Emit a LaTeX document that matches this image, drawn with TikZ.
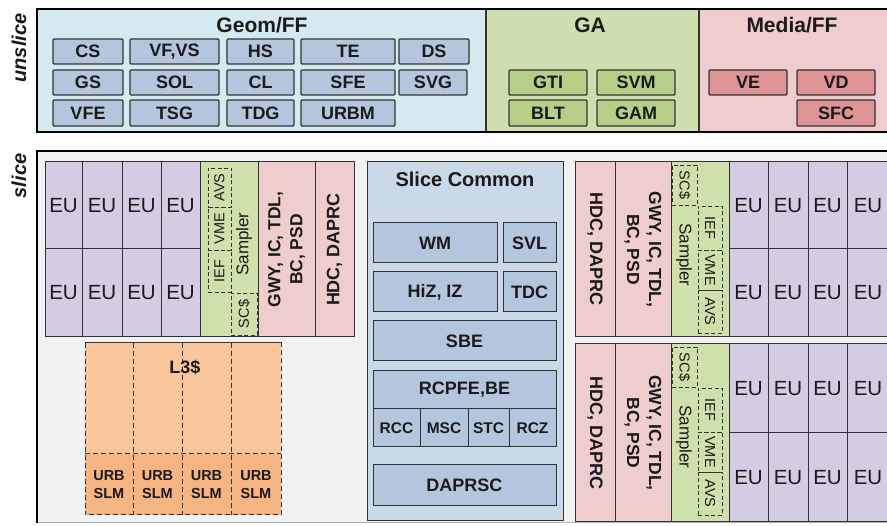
\documentclass[tikz,border=0pt]{standalone}
\usepackage{fontspec}
\setmainfont{Liberation Sans}
\definecolor{txt}{HTML}{1A1A1A}
\definecolor{bdr}{HTML}{333333}
\definecolor{geombg}{HTML}{D4EAF0}
\definecolor{geombox}{HTML}{B3C6DE}
\definecolor{gabg}{HTML}{CFDEAE}
\definecolor{gabox}{HTML}{B5CF88}
\definecolor{medbg}{HTML}{F0CDCD}
\definecolor{medbox}{HTML}{DE9494}
\definecolor{slicebg}{HTML}{F2F2F2}
\definecolor{eucol}{HTML}{D4CCE2}
\definecolor{sampcol}{HTML}{CFE0AB}
\definecolor{pinkcol}{HTML}{EFCDCD}
\definecolor{scbg}{HTML}{C9D9E8}
\definecolor{l3top}{HTML}{F9C79B}
\definecolor{l3bot}{HTML}{F6B483}
\newcommand\rbox[7]{%
  \pgfmathsetmacro\bw{#5-#3}\pgfmathsetmacro\bh{#6-#4}%
  \node[#1, anchor=north west, minimum width=\bw pt, minimum height=\bh pt] (#2) at (#3,#4) {#7};}
\begin{document}
\begin{tikzpicture}[x=1pt,y=-1pt,
  every node/.style={inner sep=0pt, outer sep=0pt, text=txt},
  lbl/.style={font=\fontsize{18}{20}\selectfont\bfseries},
  ttl/.style={font=\fontsize{21}{24}\selectfont\bfseries},
  small/.style={font=\fontsize{15.5}{17}\selectfont\bfseries},
  tiny/.style={font=\fontsize{14.5}{16}\selectfont},
  samp/.style={font=\fontsize{17}{18}\selectfont},
  rotl/.style={font=\fontsize{17.5}{22}\selectfont\bfseries, align=center},
  side/.style={font=\fontsize{20}{22}\selectfont\bfseries\itshape},
  topbox/.style={draw=bdr, line width=1.3pt, rounded corners=1pt, lbl},
  gbox/.style={topbox, fill=geombox},
  abox/.style={topbox, fill=gabox},
  mbox/.style={topbox, fill=medbox},
  eu/.style={draw=bdr, line width=1pt, fill=eucol, font=\fontsize{20.5}{22}\selectfont},
  sampblk/.style={draw=bdr, line width=1pt, fill=sampcol},
  pinkblk/.style={draw=bdr, line width=1pt, fill=pinkcol},
  scbox/.style={draw=bdr, line width=1pt, fill=geombox},
  sbx/.style={draw=bdr, line width=0.9pt, dash pattern=on 4pt off 2.5pt},
  dsh/.style={draw=bdr, line width=1pt, dash pattern=on 5pt off 3pt},
  frame/.style={draw=black, line width=2.5pt}
]
\useasboundingbox (0,0) rectangle (887,526);
% ---------------- unslice ----------------
\fill[geombg] (37,9) rectangle (486,132);
\fill[gabg] (486,9) rectangle (699,132);
\fill[medbg] (699,9) rectangle (892,132);
\draw[bdr, line width=1.5pt] (486,9) -- (486,132) (699,9) -- (699,132);
\draw[frame] (892,9) -- (37,9) -- (37,132) -- (892,132);
\node[side, rotate=90] (unslice) at (19,48) {unslice};
\node[ttl] (tgeom) at (262,25) {Geom/FF};
\node[ttl] (tga) at (590,25) {GA};
\node[ttl] (tmed) at (792,25) {Media/FF};
\rbox{gbox}{cs}{53}{39}{123}{64}{CS}
\rbox{gbox}{vfvs}{130}{39}{219}{64}{VF,VS}
\rbox{gbox}{hs}{227}{39}{294}{64}{HS}
\rbox{gbox}{te}{301}{39}{395}{64}{TE}
\rbox{gbox}{ds}{399}{39}{469}{64}{DS}
\rbox{gbox}{gs}{53}{70}{123}{95}{GS}
\rbox{gbox}{sol}{130}{70}{219}{95}{SOL}
\rbox{gbox}{cl}{227}{70}{294}{95}{CL}
\rbox{gbox}{sfe}{301}{70}{395}{95}{SFE}
\rbox{gbox}{svg}{399}{70}{467}{95}{SVG}
\rbox{gbox}{vfe}{53}{100}{123}{126}{VFE}
\rbox{gbox}{tsg}{130}{100}{219}{126}{TSG}
\rbox{gbox}{tdg}{227}{100}{294}{126}{TDG}
\rbox{gbox}{urbm}{301}{100}{395}{126}{URBM}
\rbox{abox}{gti}{509}{70}{587}{95}{GTI}
\rbox{abox}{svm}{597}{70}{675}{95}{SVM}
\rbox{abox}{blt}{509}{100}{587}{126}{BLT}
\rbox{abox}{gam}{597}{100}{675}{126}{GAM}
\rbox{mbox}{ve}{709}{70}{787}{95}{VE}
\rbox{mbox}{vd}{797}{70}{875}{95}{VD}
\rbox{mbox}{sfc}{797}{100}{875}{126}{SFC}
% ---------------- slice ----------------
\fill[slicebg] (37,151) rectangle (892,523);
\draw[gray!60, line width=1pt] (37,523) -- (892,523);
\draw[frame] (892,151) -- (37,151) -- (37,523);
\node[side, rotate=90] (slicelbl) at (19,176) {slice};
% left block
\foreach \a/\b [count=\i] in {45/82,82/122,122/161,161/200}{
  \rbox{eu}{euLa\i}{\a}{162}{\b}{249}{EU}
  \rbox{eu}{euLb\i}{\a}{249}{\b}{337}{EU}}
\rbox{sampblk}{sampL}{200}{162}{258}{337}{}
\rbox{pinkblk}{gwyL}{258}{162}{315}{337}{}
\rbox{pinkblk}{hdcL}{315}{162}{354}{337}{}
\node[rotl, rotate=90] (tgwyL) at (gwyL) {GWY, IC, TDL,\\BC, PSD};
\node[rotl, rotate=90, font=\fontsize{18}{22}\selectfont\bfseries] (thdcL) at (hdcL) {HDC, DAPRC};
\rbox{sbx}{avsL}{208}{168}{231}{207}{}
\rbox{sbx}{vmeL}{208}{207}{231}{250}{}
\rbox{sbx}{iefL}{208}{250}{231}{292}{}
\rbox{sbx}{scL}{231}{293}{257}{335}{}
\node[tiny, rotate=90] at (avsL) {AVS};
\node[tiny, rotate=90] at (vmeL) {VME};
\node[tiny, rotate=90] at (iefL) {IEF};
\node[tiny, rotate=90] at (scL) {SC\$};
\node[samp, rotate=90] (tsampL) at (244,244) {Sampler};
% L3
\rbox{draw=none, fill=l3top}{l3}{85}{343}{281}{454}{}
\foreach \a/\b [count=\i] in {85/133,133/182,182/231,231/281}{
  \rbox{draw=none, fill=l3bot, font=\fontsize{14.5}{18}\selectfont\bfseries, align=center}{urb\i}{\a}{454}{\b}{515}{URB\\SLM}}
\draw[dsh] (85,343) rectangle (281,515);
\draw[bdr, line width=1pt] (85,343) -- (281,343);
\draw[dsh] (133,343) -- (133,515) (182,343) -- (182,515) (231,343) -- (231,515) (85,454) -- (281,454);
\node[lbl] (tl3) at (185,367) {L3\$};
% Slice Common
\rbox{draw=bdr, line width=1pt, fill=scbg}{sc}{367}{162}{563}{521}{}
\node[ttl, font=\fontsize{20}{22}\selectfont\bfseries] (tsc) at (465,179) {Slice Common};
\rbox{scbox, lbl}{wm}{373}{223}{497}{263}{WM}
\rbox{scbox, lbl}{svl}{503}{223}{556}{263}{SVL}
\rbox{scbox, lbl}{hiz}{373}{272}{497}{312}{HiZ, IZ}
\rbox{scbox, lbl}{tdc}{503}{272}{556}{312}{TDC}
\rbox{scbox, lbl}{sbe}{373}{321}{556}{361}{SBE}
\rbox{scbox, lbl}{rcpfe}{373}{371}{556}{409}{RCPFE,BE}
\rbox{scbox, small}{rcc}{373}{409}{420}{447}{RCC}
\rbox{scbox, small}{msc}{420}{409}{468}{447}{MSC}
\rbox{scbox, small}{stc}{468}{409}{509}{447}{STC}
\rbox{scbox, small}{rcz}{509}{409}{556}{447}{RCZ}
\rbox{scbox, lbl}{daprsc}{373}{465}{556}{506}{DAPRSC}
% right blocks
\foreach \t/\m/\e/\s in {162/249/337/A,344/433/522/B}{
  \rbox{pinkblk}{hdcR\s}{575}{\t}{615}{\e}{}
  \rbox{pinkblk}{gwyR\s}{615}{\t}{671}{\e}{}
  \rbox{sampblk}{sampR\s}{671}{\t}{729}{\e}{}
  \node[rotl, rotate=-90, font=\fontsize{18}{22}\selectfont\bfseries] at (hdcR\s) {HDC, DAPRC};
  \node[rotl, rotate=-90] at (gwyR\s) {GWY, IC, TDL,\\BC, PSD};
  \foreach \a/\b [count=\i] in {729/768,768/808,808/847,847/889}{
    \rbox{eu}{euR\s a\i}{\a}{\t}{\b}{\m}{EU}
    \rbox{eu}{euR\s b\i}{\a}{\m}{\b}{\e}{EU}}
  \pgfmathsetmacro\ya{\t+3}\pgfmathsetmacro\yb{\t+43}
  \pgfmathsetmacro\yc{\t+44}\pgfmathsetmacro\yd{\t+88}
  \pgfmathsetmacro\ye{\t+128}\pgfmathsetmacro\yf{\t+171}
  \rbox{sbx}{scR\s}{672}{\ya}{697}{\yb}{}
  \rbox{sbx}{iefR\s}{698}{\yc}{722}{\yd}{}
  \rbox{sbx}{vmeR\s}{698}{\yd}{722}{\ye}{}
  \rbox{sbx}{avsR\s}{698}{\ye}{722}{\yf}{}
  \node[tiny, rotate=-90] at (scR\s) {SC\$};
  \node[tiny, rotate=-90] at (iefR\s) {IEF};
  \node[tiny, rotate=-90] at (vmeR\s) {VME};
  \node[tiny, rotate=-90] at (avsR\s) {AVS};
  \pgfmathsetmacro\ys{\t+93}
  \node[samp, rotate=-90] at (684,\ys) {Sampler};
}
\end{tikzpicture}
\end{document}
